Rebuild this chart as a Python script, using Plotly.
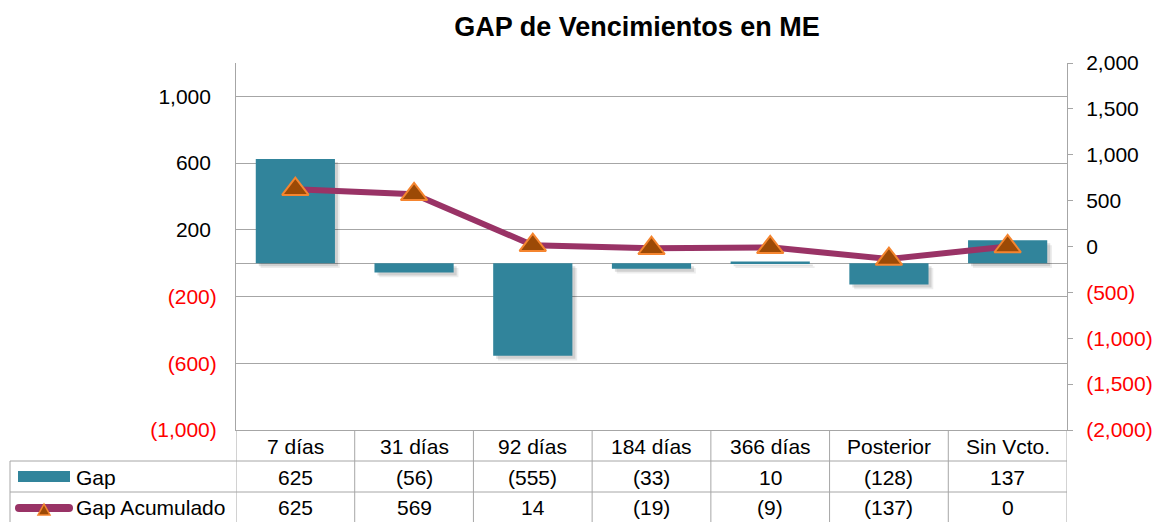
import plotly.graph_objects as go

# ---- data ----
categories = ["7 días", "31 días", "92 días", "184 días", "366 días", "Posterior", "Sin Vcto."]
gap = [625, -56, -555, -33, 10, -128, 137]
gap_acum = [625, 569, 14, -19, -9, -137, 0]
left_ticks = [-1000, -600, -200, 200, 600, 1000]
right_ticks = [-2000, -1500, -1000, -500, 0, 500, 1000, 1500, 2000]
series_names = ["Gap", "Gap Acumulado"]
title_text = "GAP de Vencimientos en ME"

# ---- layout constants ----
W, H = 1155, 522
L, R, T, B = 236, 88, 63, 92
PW = W - L - R
PH = H - T - B
FONT = "Liberation Sans, Arial, sans-serif"
FS = 21
GRID = "#A6A6A6"
BAR_C = "#31849B"
LINE_C = "#993366"
MK_FILL = "#9C4A06"
MK_EDGE = "#F5852F"
RED = "#FF0000"
BAR_W = 0.667
Y1_RANGE = [-1000, 1200]
SH_DX = 3 / (PW / len(categories))            # shadow shift, category units
SH_DY = 3 * (Y1_RANGE[1] - Y1_RANGE[0]) / PH  # shadow shift, value units


def px_x(x):
    return (x - L) / PW


def px_y(y):
    return (H - B - y) / PH


def fmt(v):
    s = f"{abs(v):,}"
    return f"({s})" if v < 0 else s


def tick_label(v, pad_positive):
    if v < 0:
        return f'<span style="color:{RED}">{fmt(v)}</span>'
    return fmt(v) + ("&nbsp;" if pad_positive else "")


fig = go.Figure()

# soft drop shadow under the bars (two faint layers)
for k, alpha in ((1.6, 0.07), (1.0, 0.12)):
    fig.add_trace(go.Bar(
        x=categories, y=gap, base=-SH_DY * k, width=BAR_W, offset=-BAR_W / 2 + SH_DX * k,
        marker=dict(color=f"rgba(0,0,0,{alpha})", line=dict(width=0)),
        showlegend=False, hoverinfo="skip", yaxis="y",
    ))

fig.add_trace(go.Bar(
    x=categories, y=gap, name=series_names[0], width=BAR_W, offset=-BAR_W / 2,
    marker=dict(color=BAR_C, line=dict(width=0)),
    showlegend=False, yaxis="y",
))

fig.add_trace(go.Scatter(
    x=categories, y=gap_acum, name=series_names[1], yaxis="y2",
    mode="lines+markers",
    line=dict(color=LINE_C, width=6),
    marker=dict(symbol="triangle-up", size=23, color=MK_FILL,
                line=dict(color=MK_EDGE, width=2)),
    showlegend=False,
))

shapes = []
annotations = []

# table vertical lines
for i in range(len(categories) + 1):
    shapes.append(dict(type="line", xref="x", yref="paper",
                       x0=i - 0.5, x1=i - 0.5, y0=px_y(430), y1=px_y(522),
                       line=dict(color=GRID, width=1)))
# table horizontal lines
for yy in (461, 492):
    shapes.append(dict(type="line", xref="paper", yref="paper",
                       x0=px_x(10), x1=px_x(1067), y0=px_y(yy), y1=px_y(yy),
                       line=dict(color=GRID, width=1)))
# table left border
shapes.append(dict(type="line", xref="paper", yref="paper",
                   x0=px_x(10), x1=px_x(10), y0=px_y(461), y1=px_y(522),
                   line=dict(color=GRID, width=1)))

# legend key: bar swatch
shapes.append(dict(type="rect", xref="paper", yref="paper",
                   x0=px_x(18), x1=px_x(70), y0=px_y(482), y1=px_y(471),
                   fillcolor=BAR_C, line=dict(width=0)))
# legend key: line with rounded ends
shapes.append(dict(type="line", xref="paper", yref="paper",
                   x0=px_x(19), x1=px_x(69), y0=px_y(508), y1=px_y(508),
                   line=dict(color=LINE_C, width=8)))
for cx in (19, 69):
    shapes.append(dict(type="circle", xref="paper", yref="paper",
                       x0=px_x(cx - 4), x1=px_x(cx + 4), y0=px_y(512), y1=px_y(504),
                       fillcolor=LINE_C, line=dict(width=0)))
# legend key: triangle marker
tri = [(38, 515), (50, 515), (44, 504)]
path = "M " + " L ".join(f"{px_x(a):.5f},{px_y(b):.5f}" for a, b in tri) + " Z"
shapes.append(dict(type="path", xref="paper", yref="paper", path=path,
                   fillcolor=MK_FILL, line=dict(color=MK_EDGE, width=1.5)))

# table texts
row_y = [446, 477, 507]
for c in categories:
    annotations.append(dict(x=c, xref="x", y=px_y(row_y[0]), yref="paper",
                            text=c, showarrow=False, xanchor="center", yanchor="middle",
                            font=dict(family=FONT, size=FS, color="black")))
for vals, yy in ((gap, row_y[1]), (gap_acum, row_y[2])):
    for c, v in zip(categories, vals):
        annotations.append(dict(x=c, xref="x", y=px_y(yy), yref="paper",
                                text=fmt(v), showarrow=False, xanchor="center", yanchor="middle",
                                font=dict(family=FONT, size=FS, color="black")))
for name, xx, yy in ((series_names[0], 74, row_y[1]), (series_names[1], 74, row_y[2])):
    annotations.append(dict(x=px_x(xx), xref="paper", y=px_y(yy), yref="paper",
                            text=name, showarrow=False, xanchor="left", yanchor="middle",
                            font=dict(family=FONT, size=FS, color="black")))

fig.update_layout(
    width=W, height=H,
    margin=dict(l=L, r=R, t=T, b=B, pad=0, autoexpand=False),
    paper_bgcolor="white", plot_bgcolor="white",
    font=dict(family=FONT, size=FS, color="black"),
    title=dict(text=title_text, x=637 / W, xref="container", xanchor="center",
               y=1 - 27 / H, yref="container", yanchor="middle",
               font=dict(family=FONT, size=27, color="black", weight="bold")),
    barmode="overlay",
    showlegend=False,
    xaxis=dict(type="category", range=[-0.5, len(categories) - 0.5],
               showticklabels=False, ticks="", showgrid=False, zeroline=False,
               showline=True, linecolor=GRID, linewidth=1, automargin=False),
    yaxis=dict(range=Y1_RANGE, tickvals=left_ticks,
               ticktext=[tick_label(v, True) for v in left_ticks],
               showgrid=True, gridcolor=GRID, gridwidth=1,
               zeroline=True, zerolinecolor=GRID, zerolinewidth=1,
               showline=True, linecolor=GRID, linewidth=1, ticks="",
               ticklabelstandoff=14, automargin=False,
               tickfont=dict(family=FONT, size=FS, color="black")),
    yaxis2=dict(range=[-2000, 2000], tickvals=right_ticks,
                ticktext=[tick_label(v, False) for v in right_ticks],
                overlaying="y", side="right", showgrid=False, zeroline=False,
                showline=True, linecolor=GRID, linewidth=1,
                ticks="outside", ticklen=5, tickcolor=GRID, tickwidth=1,
                ticklabelstandoff=9, automargin=False,
                tickfont=dict(family=FONT, size=FS, color="black")),
    shapes=shapes,
    annotations=annotations,
)

fig.write_html("out.html", config={"displayModeBar": False},
               post_script="document.body.style.margin='0';document.body.style.padding='0';")
